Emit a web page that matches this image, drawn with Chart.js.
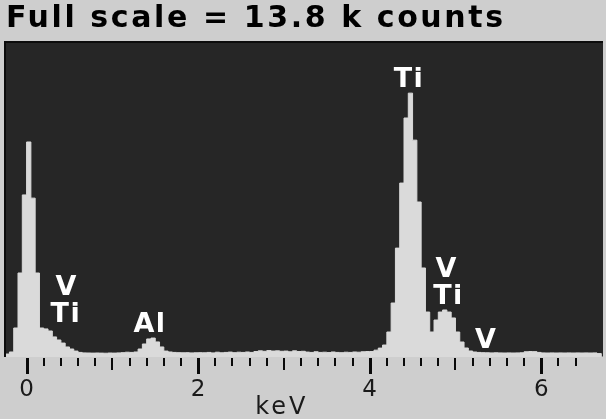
<!DOCTYPE html>
<html>
<head>
<meta charset="utf-8">
<script src="https://cdn.jsdelivr.net/npm/chart.js@4.4.0/dist/chart.umd.min.js"></script>
<style>
html,body{margin:0;padding:0;background:#cecece;}
#wrap{width:606px;height:419px;position:relative;}
</style>
</head>
<body>
<div id="wrap"><canvas id="c" width="606" height="419"></canvas></div>
<script>
// ---- data ----
const titleText = 'Full scale = 13.8 k counts';
const axisTitle = 'keV';
const fullScaleCounts = 13800;
const channelStartKeV = -0.25;
const channelWidthKeV = 0.05;
// counts per channel (left edge = channelStartKeV + i*channelWidthKeV)
const counts = [
  130, 220, 1270, 3680, 7100, 9420, 6960, 3680, 1270, 1230,
  1140, 880, 745, 610, 440, 350, 260, 200, 180, 175,
  170, 175, 170, 165, 175, 170, 180, 190, 210, 200,
  220, 350, 570, 790, 830, 660, 440, 260, 220, 200,
  190, 185, 190, 180, 185, 190, 185, 200, 180, 210,
  185, 200, 215, 190, 210, 200, 220, 200, 240, 270,
  250, 280, 260, 270, 250, 260, 230, 270, 240, 250,
  215, 200, 230, 200, 210, 195, 220, 200, 190, 210,
  200, 220, 210, 230, 240, 240, 300, 390, 525, 1095,
  2365, 4770, 7620, 10470, 11560, 9500, 6790, 3900, 1970, 1095,
  1620, 1970, 2060, 1970, 1710, 1095, 657, 394, 263, 219,
  200, 190, 185, 180, 185, 180, 175, 180, 175, 180,
  185, 230, 240, 235, 200, 180, 175, 180, 175, 180,
  175, 180, 175, 180, 175, 180, 175, 180, 150, 0
];
const xAxisMin = -0.24;
const xAxisMax = 6.72;
const tickStepKeV = 0.2;
const labelledTicks = [0, 2, 4, 6];
const peakNames = ['V', 'Ti', 'Al', 'Ti', 'V', 'Ti', 'V'];
const peakLabelKeV = [0.46, 0.45, 1.43, 4.45, 4.89, 4.91, 5.35];
const peakLabelCounts = [3020, 1840, 1400, 12130, 3810, 2630, 700];

// ---- build the step series ----
const energies = counts.map((_, i) => +(channelStartKeV + i * channelWidthKeV).toFixed(3));
const points = counts.map((v, i) => ({x: energies[i], y: v}));
points.push({x: +(channelStartKeV + counts.length * channelWidthKeV).toFixed(3), y: counts[counts.length - 1]});

const near = (v, m) => Math.abs(v / m - Math.round(v / m)) < 1e-6;

const decor = {
  id: 'decor',
  beforeDraw(chart) {
    const {ctx, chartArea: a, width, height} = chart;
    ctx.save();
    ctx.fillStyle = '#cecece';
    ctx.fillRect(0, 0, width, height);
    ctx.fillStyle = '#262626';
    ctx.fillRect(a.left, a.top, a.right - a.left, a.bottom - a.top);
    ctx.fillStyle = '#0c0c0c';
    ctx.fillRect(a.left - 2, a.top - 1, 2, a.bottom - a.top + 1);
    ctx.fillRect(a.left - 2, a.top - 1, a.right - a.left + 2, 2);
    ctx.restore();
    const tb = chart.titleBlock;
    if (tb && !tb.__spaced) {
      const orig = tb.draw;
      tb.draw = function (...args) {
        const c = this.ctx;
        c.save();
        c.letterSpacing = '2.6px';
        orig.apply(this, args);
        c.restore();
      };
      tb.__spaced = true;
    }
  },
  afterDraw(chart) {
    const {ctx, chartArea: a} = chart;
    const xs = chart.scales.x, ys = chart.scales.y;
    ctx.save();
    // tick marks
    ctx.fillStyle = '#0a0a0a';
    xs.ticks.forEach(t => {
      const v = t.value;
      if (v < -1e-6 || !near(v, tickStepKeV)) return;
      const px = Math.round(xs.getPixelForValue(v));
      let len = 8, w = 2;
      if (near(v, 2)) { len = 16; w = 3; }
      else if (near(v, 1)) { len = 12; w = 2; }
      ctx.fillRect(px - Math.floor(w / 2), a.bottom + 1, w, len);
    });
    // peak labels
    ctx.letterSpacing = '1.5px';
    ctx.font = 'bold 27px "DejaVu Sans"';
    ctx.fillStyle = '#ffffff';
    ctx.textAlign = 'center';
    ctx.textBaseline = 'middle';
    peakNames.forEach((n, i) => {
      ctx.fillText(n, xs.getPixelForValue(peakLabelKeV[i]) + 0.75, ys.getPixelForValue(peakLabelCounts[i]));
    });
    // axis title
    ctx.letterSpacing = '3px';
    ctx.font = '24px "DejaVu Sans"';
    ctx.fillStyle = '#1a1a1a';
    const mid = (labelledTicks[0] + labelledTicks[labelledTicks.length - 1]) / 2;
    ctx.fillText(axisTitle, xs.getPixelForValue(mid) - 2, xs.bottom - 11);
    ctx.restore();
  }
};

new Chart(document.getElementById('c'), {
  type: 'line',
  data: {
    datasets: [{
      data: points,
      stepped: 'before',
      fill: 'origin',
      backgroundColor: '#dadada',
      borderColor: '#dadada',
      borderWidth: 1,
      pointRadius: 0
    }]
  },
  options: {
    responsive: false,
    animation: false,
    layout: {padding: {left: 6, right: 2, top: 0, bottom: 0}},
    plugins: {
      legend: {display: false},
      tooltip: {enabled: false},
      title: {
        display: true,
        text: titleText,
        align: 'start',
        color: '#000000',
        font: {family: '"DejaVu Sans"', size: 30, weight: 'bold', lineHeight: 1.2},
        padding: {top: 1, bottom: 5}
      }
    },
    scales: {
      x: {
        type: 'linear',
        min: xAxisMin,
        max: xAxisMax,
        border: {display: false},
        grid: {drawOnChartArea: false, drawTicks: true, tickLength: 16, tickColor: 'rgba(0,0,0,0)'},
        ticks: {
          stepSize: tickStepKeV,
          autoSkip: false,
          maxRotation: 0,
          padding: 3,
          color: '#1a1a1a',
          font: {family: '"DejaVu Sans"', size: 23},
          callback: (v) => {
            const hit = labelledTicks.find(t => Math.abs(t - v) < 1e-6);
            return hit === undefined ? '' : String(hit);
          }
        },
        afterFit: (s) => { s.height = 62; }
      },
      y: {
        display: false,
        min: 0,
        max: fullScaleCounts
      }
    }
  },
  plugins: [decor]
});
</script>
</body>
</html>
